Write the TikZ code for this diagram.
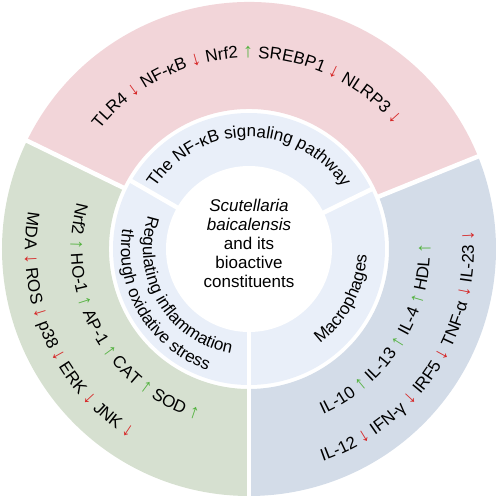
\documentclass[tikz,border=0pt]{standalone}
\usepackage{fontspec}
\setmainfont{Liberation Sans}
\usetikzlibrary{decorations.text}
\definecolor{pinkband}{RGB}{242,213,217}
\definecolor{greenband}{RGB}{214,224,208}
\definecolor{blueband}{RGB}{211,220,232}
\definecolor{ringband}{RGB}{233,239,249}
\definecolor{dnred}{RGB}{214,38,38}
\definecolor{upgreen}{RGB}{84,178,64}
\newcommand{\arcfont}{\fontsize{17pt}{19pt}\selectfont}
\newcommand{\dnc}{\fontsize{20pt}{19pt}\selectfont\color{dnred}}
\newcommand{\upc}{\fontsize{20pt}{19pt}\selectfont\color{upgreen}}
\begin{document}
\begin{tikzpicture}[gap/.style={white,line width=4.5pt},
  arc text/.style={decorate,decoration={text along path,text align=center,text={#1}}}]
\useasboundingbox (-249pt,-249pt) rectangle (249pt,249pt);
\begin{scope}
\fill[pinkband] (22:140pt) arc[start angle=22,end angle=154,radius=140pt] -- (154:247pt) arc[start angle=154,end angle=22,radius=247pt] -- cycle;
\fill[greenband] (154:140pt) arc[start angle=154,end angle=270,radius=140pt] -- (270:247pt) arc[start angle=270,end angle=154,radius=247pt] -- cycle;
\fill[blueband] (-90:140pt) arc[start angle=-90,end angle=22,radius=140pt] -- (22:247pt) arc[start angle=22,end angle=-90,radius=247pt] -- cycle;
\fill[ringband] (0,0) circle[radius=136pt];
\fill[white] (0,0) circle[radius=83pt];
\draw[gap] (22:138pt) -- (22:249pt);
\draw[gap] (154:138pt) -- (154:249pt);
\draw[gap] (270:80pt) -- (270:249pt);
\draw[gap] (26:80pt) -- (26:138pt);
\draw[gap] (150:80pt) -- (150:138pt);
%\draw[gap] (:80pt) -- (:138pt);
\end{scope}
\begin{scope}
\node[align=center,font=\arcfont] (core) at (0,6pt) {\textit{Scutellaria}\\\textit{baicalensis}\\and its\\bioactive\\constituents};
\path[arc text={|\arcfont|The NF-κB signaling pathway}] (160:112pt) arc[start angle=160,end angle=20,radius=112pt];
\path[arc text={|\arcfont|Regulating inflammation}] (149:106pt) arc[start angle=149,end angle=273,radius=106pt];
\path[arc text={|\arcfont|through oxidative stress}] (149:128pt) arc[start angle=149,end angle=273,radius=128pt];
\path[arc text={|\arcfont|Macrophages}] (-88:118pt) arc[start angle=-88,end angle=32,radius=118pt];
\path[arc text={|\arcfont|TLR4 |\dnc|↓|\arcfont| NF-κB |\dnc|↓|\arcfont| Nrf2 |\upc|↑|\arcfont| SREBP1 |\dnc|↓|\arcfont| NLRP3 |\dnc|↓}] (156:191pt) arc[start angle=156,end angle=26,radius=191pt];
\path[arc text={|\arcfont|Nrf2 |\upc|↑|\arcfont| HO-1 |\upc|↑|\arcfont| AP-1 |\upc|↑|\arcfont| CAT |\upc|↑|\arcfont| SOD |\upc|↑}] (149:178pt) arc[start angle=149,end angle=269,radius=178pt];
\path[arc text={|\arcfont|MDA |\dnc|↓|\arcfont| ROS |\dnc|↓|\arcfont| p38 |\dnc|↓|\arcfont| ERK |\dnc|↓|\arcfont| JNK |\dnc|↓}] (149:224pt) arc[start angle=149,end angle=259,radius=224pt];
\path[arc text={|\arcfont|IL-10 |\upc|↑|\arcfont| IL-13 |\upc|↑|\arcfont| IL-4 |\upc|↑|\arcfont| HDL |\upc|↑}] (-90:181pt) arc[start angle=-90,end angle=26,radius=181pt];
\path[arc text={|\arcfont|IL-12 |\dnc|↓|\arcfont| IFN-γ |\dnc|↓|\arcfont| IRF5 |\dnc|↓|\arcfont| TNF-α |\dnc|↓|\arcfont| IL-23 |\dnc|↓}] (-90:225pt) arc[start angle=-90,end angle=24,radius=225pt];
\end{scope}
\end{tikzpicture}
\end{document}
